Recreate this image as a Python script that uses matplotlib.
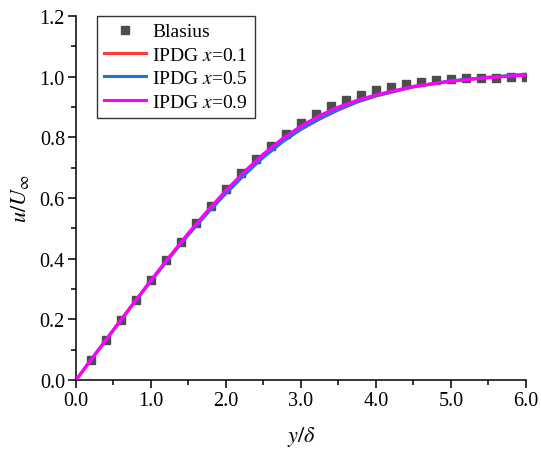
import matplotlib
matplotlib.use("Agg")
import matplotlib.pyplot as plt
from matplotlib.ticker import MultipleLocator, FormatStrFormatter

plt.rcParams["font.family"] = ["Liberation Serif", "DejaVu Serif"]
plt.rcParams["mathtext.fontset"] = "stix"

# Blasius solution (markers)
eta = [0.2, 0.4, 0.6, 0.8, 1.0, 1.2, 1.4, 1.6, 1.8, 2.0, 2.2, 2.4, 2.6, 2.8, 3.0,
       3.2, 3.4, 3.6, 3.8, 4.0, 4.2, 4.4, 4.6, 4.8, 5.0, 5.2, 5.4, 5.6, 5.8, 6.0]
blasius = [0.066, 0.133, 0.199, 0.265, 0.330, 0.394, 0.456, 0.517, 0.575, 0.630,
           0.681, 0.729, 0.772, 0.812, 0.846, 0.876, 0.902, 0.923, 0.941, 0.956,
           0.967, 0.976, 0.983, 0.988, 0.992, 0.994, 0.996, 0.997, 0.998, 0.999]

# IPDG profiles
y_ipdg = [0.0, 0.25, 0.5, 0.75, 1.0, 1.25, 1.5, 1.75, 2.0, 2.25, 2.5, 2.75, 3.0,
          3.25, 3.5, 3.75, 4.0, 4.5, 5.0, 5.5, 6.0]
u_x01 = [0.0, 0.083, 0.165, 0.247, 0.327, 0.405, 0.481, 0.552, 0.618, 0.680,
         0.737, 0.786, 0.826, 0.860, 0.890, 0.916, 0.936, 0.966, 0.985, 0.997, 1.006]
u_x05 = [0.0, 0.083, 0.165, 0.246, 0.326, 0.404, 0.479, 0.549, 0.615, 0.677,
         0.734, 0.784, 0.827, 0.862, 0.892, 0.917, 0.937, 0.967, 0.986, 0.998, 1.008]
u_x09 = [0.0, 0.083, 0.166, 0.248, 0.329, 0.408, 0.485, 0.557, 0.625, 0.688,
         0.745, 0.795, 0.837, 0.872, 0.900, 0.922, 0.940, 0.968, 0.985, 0.997, 1.005]

fig = plt.figure(figsize=(5.41, 4.52), dpi=100)
ax = fig.add_axes([0.1405, 0.157, 0.8315, 0.8055])

ax.plot(eta, blasius, "s", color="#4d4d4d", markersize=6, label="Blasius",
        zorder=2)
ax.plot(y_ipdg, u_x01, color="#ff3b3b", lw=2.2, label="IPDG $x$=0.1", zorder=3)
ax.plot(y_ipdg, u_x05, color="#2272dc", lw=2.2, label="IPDG $x$=0.5", zorder=4)
ax.plot(y_ipdg, u_x09, color="#ff00ff", lw=2.2, label="IPDG $x$=0.9", zorder=5)

ax.set_xlim(0, 6.0)
ax.set_ylim(0, 1.2)
ax.xaxis.set_major_locator(MultipleLocator(1.0))
ax.xaxis.set_minor_locator(MultipleLocator(0.5))
ax.yaxis.set_major_locator(MultipleLocator(0.2))
ax.yaxis.set_minor_locator(MultipleLocator(0.1))
ax.xaxis.set_major_formatter(FormatStrFormatter("%.1f"))
ax.yaxis.set_major_formatter(FormatStrFormatter("%.1f"))

ax.spines["top"].set_visible(False)
ax.spines["right"].set_visible(False)
ax.spines["left"].set_linewidth(1.1)
ax.spines["bottom"].set_linewidth(1.1)
ax.tick_params(which="major", direction="out", length=6, width=1.1,
               labelsize=14.5, pad=2)
ax.tick_params(which="minor", direction="out", length=3.5, width=1.1)

ax.set_xlabel(r"$y/\delta$", fontsize=16, labelpad=10)
ax.set_ylabel(r"$u/U_\infty$", fontsize=16, labelpad=6)

leg = ax.legend(loc="upper left", bbox_to_anchor=(0.046, 1.0), fontsize=14,
                frameon=True, fancybox=False, edgecolor="black",
                handlelength=2.2, handletextpad=0.3, borderpad=0.35,
                labelspacing=0.3, borderaxespad=0.0)
leg.get_frame().set_linewidth(1.0)

fig.savefig("out.png", dpi=100)
